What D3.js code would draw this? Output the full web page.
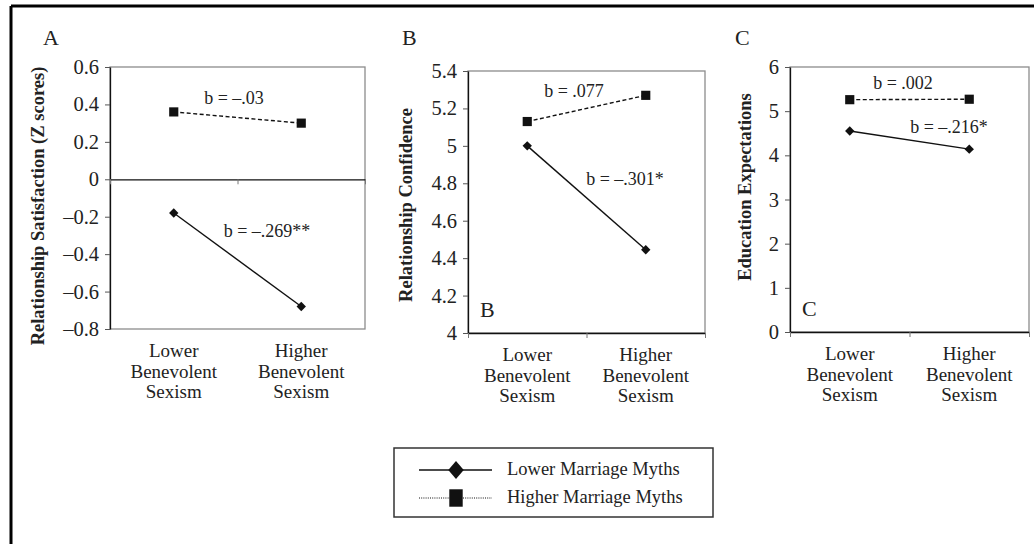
<!DOCTYPE html>
<html>
<head>
<meta charset="utf-8">
<script src="https://cdn.jsdelivr.net/npm/d3@7"></script>
<style>
  body { margin: 0; background: #fff; }
  svg, svg text { font-family: "Liberation Serif", "DejaVu Serif", serif; fill: #222; }
</style>
</head>
<body>
<div id="chart"></div>
<script>
// categories and series
var categories = ["Lower Benevolent Sexism", "Higher Benevolent Sexism"];
var seriesNames = ["Lower Marriage Myths", "Higher Marriage Myths"];

// panel A: relationship satisfaction (z scores)
var satisfactionLow = [-0.18, -0.68];
var satisfactionHigh = [0.36, 0.30];
var satisfactionTicks = [0.6, 0.4, 0.2, 0, -0.2, -0.4, -0.6, -0.8];
var satisfactionNotes = ["b = –.03", "b = –.269**"];

// panel B: relationship confidence
var confidenceLow = [5.00, 4.445];
var confidenceHigh = [5.13, 5.27];
var confidenceTicks = [5.4, 5.2, 5, 4.8, 4.6, 4.4, 4.2, 4];
var confidenceNotes = ["b = .077", "b = –.301*"];

// panel C: education expectations
var educationLow = [4.55, 4.14];
var educationHigh = [5.26, 5.27];
var educationTicks = [6, 5, 4, 3, 2, 1, 0];
var educationNotes = ["b = .002", "b = –.216*"];

var width = 1034, height = 544;
var serif = "Liberation Serif, DejaVu Serif, serif";

var svg = d3.select("#chart").append("svg")
    .attr("width", width)
    .attr("height", height)
    .attr("font-family", serif);

// outer frame (only top and left edges visible)
svg.append("line").attr("x1", 11).attr("x2", width).attr("y1", 6).attr("y2", 6)
    .attr("stroke", "#000").attr("stroke-width", 3);
svg.append("line").attr("x1", 11).attr("x2", 11).attr("y1", 6).attr("y2", height)
    .attr("stroke", "#000").attr("stroke-width", 3);

var panels = [
  {letter: "A", inner: null, title: "Relationship Satisfaction (Z scores)",
   left: 110, right: 365, top: 67, bottom: 329, domain: [-0.8, 0.6],
   ticks: satisfactionTicks, low: satisfactionLow, high: satisfactionHigh,
   notes: satisfactionNotes, crossAt: 0,
   letterX: 43, titleX: 44, titleY: 206,
   notePos: [[234, 104], [267, 237]]},
  {letter: "B", inner: "B", title: "Relationship Confidence",
   left: 468, right: 705, top: 71, bottom: 333, domain: [4, 5.4],
   ticks: confidenceTicks, low: confidenceLow, high: confidenceHigh,
   notes: confidenceNotes, crossAt: null,
   letterX: 402, titleX: 412, titleY: 205,
   notePos: [[574, 97], [625, 185]]},
  {letter: "C", inner: "C", title: "Education Expectations",
   left: 790, right: 1029, top: 67, bottom: 332, domain: [0, 6],
   ticks: educationTicks, low: educationLow, high: educationHigh,
   notes: educationNotes, crossAt: null,
   letterX: 735, titleX: 751, titleY: 187,
   notePos: [[903, 89], [949, 133]]}
];

var fmt = function(d) { return String(d).replace("-", "–"); };

var diamond = d3.symbol().type(d3.symbolSquare).size(44);
var square = d3.symbol().type(d3.symbolSquare).size(84);

panels.forEach(function(p) {
  var g = svg.append("g");

  var x = d3.scaleBand().domain(categories).range([p.left, p.right]);
  var y = d3.scaleLinear().domain(p.domain).range([p.bottom, p.top]);

  // plot frame (grey)
  g.append("rect")
    .attr("x", p.left).attr("y", p.top)
    .attr("width", p.right - p.left).attr("height", p.bottom - p.top)
    .attr("fill", "none").attr("stroke", "#8c8c8c").attr("stroke-width", 1.3);

  // y axis
  var yAxis = d3.axisLeft(y).tickValues(p.ticks).tickFormat(fmt)
      .tickSize(5).tickSizeOuter(0).tickPadding(6);
  var ya = g.append("g")
    .attr("transform", "translate(" + p.left + ",0)")
    .call(yAxis)
    .attr("font-family", serif)
    .attr("font-size", 20.5);
  ya.select(".domain").attr("stroke", "#111").attr("stroke-width", 1.3);
  ya.selectAll(".tick line").attr("stroke", "#555");
  ya.selectAll(".tick text").attr("fill", "#222");

  // x axis (boundaries between categories)
  var axisY = p.crossAt === null ? p.bottom : y(p.crossAt);
  var xb = d3.scaleLinear().domain([0, categories.length]).range([p.left, p.right]);
  var xa = g.append("g")
    .attr("transform", "translate(0," + axisY + ")")
    .call(d3.axisBottom(xb).ticks(categories.length).tickFormat("")
      .tickSize(5).tickSizeOuter(0));
  xa.select(".domain").attr("stroke", "#111").attr("stroke-width", 1.3);
  xa.selectAll(".tick line").attr("stroke", "#777");

  // category labels
  g.selectAll(".cat")
    .data(categories)
    .enter().append("text")
    .attr("class", "cat")
    .attr("text-anchor", "middle")
    .attr("font-size", 19)
    .each(function(d) {
      var t = d3.select(this);
      var cx = x(d) + x.bandwidth() / 2;
      d.split(" ").forEach(function(w, i) {
        t.append("tspan").attr("x", cx)
          .attr("y", p.bottom + 28 + i * 20.5).text(w);
      });
    });

  // titles and letters
  g.append("text")
    .attr("transform", "translate(" + p.titleX + "," + p.titleY + ") rotate(-90)")
    .attr("text-anchor", "middle")
    .attr("font-size", 18.5)
    .attr("font-weight", "bold")
    .text(p.title);
  g.append("text").attr("x", p.letterX).attr("y", 45)
    .attr("font-size", 22).text(p.letter);
  if (p.inner) {
    g.append("text").attr("x", p.left + 12).attr("y", p.bottom - 16)
      .attr("font-size", 22).text(p.inner);
  }

  var line = d3.line()
    .x(function(d, i) { return x(categories[i]) + x.bandwidth() / 2; })
    .y(function(d) { return y(d); });

  // higher marriage myths: dashed with squares
  g.append("path").datum(p.high)
    .attr("d", line).attr("fill", "none")
    .attr("stroke", "#111").attr("stroke-width", 1.4)
    .attr("stroke-dasharray", "4,2.5");
  g.selectAll(".sq").data(p.high).enter().append("path")
    .attr("class", "sq")
    .attr("d", square)
    .attr("transform", function(d, i) {
      return "translate(" + (x(categories[i]) + x.bandwidth() / 2) + "," + y(d) + ")";
    })
    .attr("fill", "#111");

  // lower marriage myths: solid with diamonds
  g.append("path").datum(p.low)
    .attr("d", line).attr("fill", "none")
    .attr("stroke", "#111").attr("stroke-width", 1.4);
  g.selectAll(".dm").data(p.low).enter().append("path")
    .attr("class", "dm")
    .attr("d", diamond)
    .attr("transform", function(d, i) {
      return "translate(" + (x(categories[i]) + x.bandwidth() / 2) + "," + y(d) + ") rotate(45)";
    })
    .attr("fill", "#111");

  // slope notes
  g.selectAll(".note").data(p.notes).enter().append("text")
    .attr("class", "note")
    .attr("x", function(d, i) { return p.notePos[i][0]; })
    .attr("y", function(d, i) { return p.notePos[i][1]; })
    .attr("text-anchor", "middle")
    .attr("font-size", 18)
    .text(function(d) { return d; });
});

// legend
var legend = svg.append("g");
legend.append("rect")
  .attr("x", 394).attr("y", 448).attr("width", 319).attr("height", 69)
  .attr("fill", "#fff").attr("stroke", "#333").attr("stroke-width", 1.5);

var items = legend.selectAll(".item").data(seriesNames).enter().append("g")
  .attr("class", "item")
  .attr("transform", function(d, i) { return "translate(0," + (470 + i * 28) + ")"; });

items.append("line")
  .attr("x1", 419).attr("x2", 492).attr("y1", 0).attr("y2", 0)
  .attr("stroke", "#111")
  .attr("stroke-width", function(d, i) { return i === 0 ? 1.5 : 1; })
  .attr("stroke-dasharray", function(d, i) { return i === 0 ? null : "1,1.2"; });

items.append("path")
  .attr("d", function(d, i) {
    return i === 0 ? d3.symbol().type(d3.symbolSquare).size(120)() : d3.symbol().type(d3.symbolSquare).size(180)();
  })
  .attr("transform", function(d, i) {
    return i === 0 ? "translate(456,0) scale(1,1.15) rotate(45)" : "translate(456,0) scale(1,1.3)";
  })
  .attr("fill", "#111");

items.append("text")
  .attr("x", 507).attr("y", 5)
  .attr("font-size", 18.5)
  .text(function(d) { return d; });
</script>
</body>
</html>
